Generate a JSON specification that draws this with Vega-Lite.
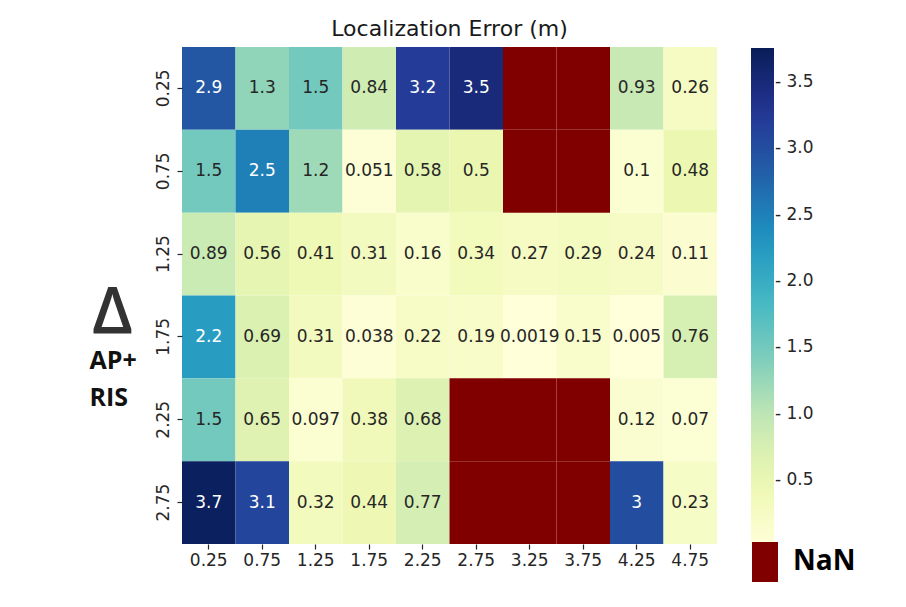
{
  "$schema": "https://vega.github.io/schema/vega-lite/v6.json",
  "width": 535,
  "height": 497,
  "autosize": {"type": "none"},
  "padding": {"left": 182, "top": 47, "right": 189, "bottom": 63},
  "background": "white",
  "title": {"text": "Localization Error (m)", "font": "DejaVu Sans", "fontSize": 22, "fontWeight": "normal", "color": "#1a1a1a", "anchor": "middle", "baseline": "alphabetic", "offset": -11},
  "data": {"values": [
    {"y": "0.25", "x": "0.25", "v": 2.9}, {"y": "0.25", "x": "0.75", "v": 1.3}, {"y": "0.25", "x": "1.25", "v": 1.5}, {"y": "0.25", "x": "1.75", "v": 0.84}, {"y": "0.25", "x": "2.25", "v": 3.2},
    {"y": "0.25", "x": "2.75", "v": 3.5}, {"y": "0.25", "x": "3.25", "v": null}, {"y": "0.25", "x": "3.75", "v": null}, {"y": "0.25", "x": "4.25", "v": 0.93}, {"y": "0.25", "x": "4.75", "v": 0.26},
    {"y": "0.75", "x": "0.25", "v": 1.5}, {"y": "0.75", "x": "0.75", "v": 2.5}, {"y": "0.75", "x": "1.25", "v": 1.2}, {"y": "0.75", "x": "1.75", "v": 0.051}, {"y": "0.75", "x": "2.25", "v": 0.58},
    {"y": "0.75", "x": "2.75", "v": 0.5}, {"y": "0.75", "x": "3.25", "v": null}, {"y": "0.75", "x": "3.75", "v": null}, {"y": "0.75", "x": "4.25", "v": 0.1}, {"y": "0.75", "x": "4.75", "v": 0.48},
    {"y": "1.25", "x": "0.25", "v": 0.89}, {"y": "1.25", "x": "0.75", "v": 0.56}, {"y": "1.25", "x": "1.25", "v": 0.41}, {"y": "1.25", "x": "1.75", "v": 0.31}, {"y": "1.25", "x": "2.25", "v": 0.16},
    {"y": "1.25", "x": "2.75", "v": 0.34}, {"y": "1.25", "x": "3.25", "v": 0.27}, {"y": "1.25", "x": "3.75", "v": 0.29}, {"y": "1.25", "x": "4.25", "v": 0.24}, {"y": "1.25", "x": "4.75", "v": 0.11},
    {"y": "1.75", "x": "0.25", "v": 2.2}, {"y": "1.75", "x": "0.75", "v": 0.69}, {"y": "1.75", "x": "1.25", "v": 0.31}, {"y": "1.75", "x": "1.75", "v": 0.038}, {"y": "1.75", "x": "2.25", "v": 0.22},
    {"y": "1.75", "x": "2.75", "v": 0.19}, {"y": "1.75", "x": "3.25", "v": 0.0019}, {"y": "1.75", "x": "3.75", "v": 0.15}, {"y": "1.75", "x": "4.25", "v": 0.005}, {"y": "1.75", "x": "4.75", "v": 0.76},
    {"y": "2.25", "x": "0.25", "v": 1.5}, {"y": "2.25", "x": "0.75", "v": 0.65}, {"y": "2.25", "x": "1.25", "v": 0.097}, {"y": "2.25", "x": "1.75", "v": 0.38}, {"y": "2.25", "x": "2.25", "v": 0.68},
    {"y": "2.25", "x": "2.75", "v": null}, {"y": "2.25", "x": "3.25", "v": null}, {"y": "2.25", "x": "3.75", "v": null}, {"y": "2.25", "x": "4.25", "v": 0.12}, {"y": "2.25", "x": "4.75", "v": 0.07},
    {"y": "2.75", "x": "0.25", "v": 3.7}, {"y": "2.75", "x": "0.75", "v": 3.1}, {"y": "2.75", "x": "1.25", "v": 0.32}, {"y": "2.75", "x": "1.75", "v": 0.44}, {"y": "2.75", "x": "2.25", "v": 0.77},
    {"y": "2.75", "x": "2.75", "v": null}, {"y": "2.75", "x": "3.25", "v": null}, {"y": "2.75", "x": "3.75", "v": null}, {"y": "2.75", "x": "4.25", "v": 3.0}, {"y": "2.75", "x": "4.75", "v": 0.23}
  ]},
  "encoding": {
    "x": {
      "field": "x", "type": "ordinal", "sort": null,
      "scale": {"domain": ["0.25", "0.75", "1.25", "1.75", "2.25", "2.75", "3.25", "3.75", "4.25", "4.75"], "paddingInner": 0, "paddingOuter": 0},
      "axis": {
        "title": "Δ", "titleFont": "Open Sans", "titleFontWeight": 600, "titleFontSize": 66, "titleColor": "#333333",
        "titleX": -70, "titleY": -211, "titleAlign": "center", "titleBaseline": "alphabetic", "titleAngle": 0,
        "labelAngle": 0, "labelFont": "DejaVu Sans", "labelFontSize": 17, "labelColor": "#262626",
        "tickColor": "#262626", "tickSize": 5, "tickWidth": 1.2, "domain": false, "labelPadding": 3
      }
    },
    "y": {
      "field": "y", "type": "ordinal", "sort": null,
      "scale": {"domain": ["0.25", "0.75", "1.25", "1.75", "2.25", "2.75"], "paddingInner": 0, "paddingOuter": 0},
      "axis": {
        "title": ["AP+", "RIS"], "titleFont": "Open Sans", "titleFontWeight": "bold", "titleFontSize": 25, "titleColor": "#111111",
        "titleAngle": 0, "titleAlign": "left", "titleBaseline": "alphabetic", "titleX": -93, "titleY": 321, "titleLineHeight": 37,
        "labelAngle": 270, "labelAlign": "center", "labelBaseline": "bottom", "labelFont": "DejaVu Sans", "labelFontSize": 17, "labelColor": "#262626",
        "tickColor": "#262626", "tickSize": 5, "tickWidth": 1.2, "domain": false, "labelPadding": 5
      }
    }
  },
  "layer": [
    {
      "transform": [{"filter": "isValid(datum.v)"}],
      "mark": {"type": "rect"},
      "encoding": {
        "color": {
          "field": "v", "type": "quantitative",
          "scale": {
            "domain": [0.0019, 0.4711, 0.9403, 1.4095, 1.8786, 2.3477, 2.8168, 3.2859, 3.755],
            "range": ["#ffffd9", "#edf8b1", "#c7e9b4", "#7fcdbb", "#41b6c4", "#1d91c0", "#225ea8", "#253494", "#081d58"],
            "interpolate": "rgb"
          },
          "legend": {
            "title": null, "orient": "none", "legendX": 569, "legendY": 1, "direction": "vertical",
            "gradientLength": 498, "gradientThickness": 23, "gradientStrokeWidth": 0,
            "values": [0.5, 1, 1.5, 2, 2.5, 3, 3.5],
            "labelExpr": "'- ' + format(datum.value, '.1f')",
            "labelFont": "DejaVu Sans", "labelFontSize": 17, "labelColor": "#262626", "labelOffset": 1, "padding": 0, "labelOverlap": false
          }
        }
      }
    },
    {
      "transform": [{"filter": "!isValid(datum.v)"}],
      "mark": {"type": "rect"},
      "encoding": {
        "color": {
          "datum": "NaN", "type": "nominal",
          "scale": {"domain": ["NaN"], "range": ["#800000"]},
          "legend": {
            "title": null, "orient": "none", "legendX": 563, "legendY": 495,
            "symbolType": "M-0.65,-1H0.65V1H-0.65Z", "symbolSize": 1600, "symbolStrokeWidth": 0, "symbolOpacity": 1,
            "labelFont": "Open Sans", "labelFontWeight": "bold", "labelFontSize": 28, "labelColor": "#000000", "labelOffset": 8, "padding": 0
          }
        }
      }
    },
    {
      "transform": [{"filter": "isValid(datum.v)"}],
      "mark": {"type": "text", "font": "DejaVu Sans", "fontSize": 17},
      "encoding": {
        "text": {"field": "v", "type": "quantitative", "format": ".2~g"},
        "color": {"condition": {"test": "datum.v > 2", "value": "#ffffff"}, "value": "#262626"}
      }
    }
  ],
  "resolve": {"scale": {"color": "independent"}},
  "config": {"view": {"stroke": null}}
}
